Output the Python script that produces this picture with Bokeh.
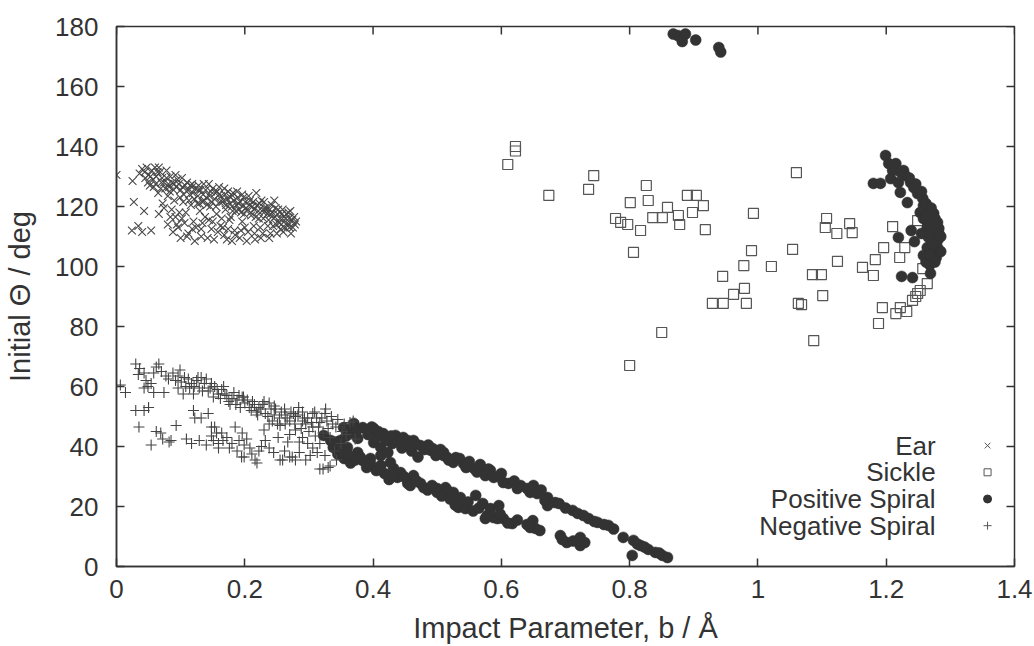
from bokeh.plotting import figure
from bokeh.models import Range1d, FixedTicker
from bokeh.core.properties import value
from bokeh.embed import file_html
from bokeh.resources import INLINE

# ---------------- data ----------------
x_ticks = [0, 0.2, 0.4, 0.6, 0.8, 1.0, 1.2, 1.4]
x_tick_labels = ["0", "0.2", "0.4", "0.6", "0.8", "1", "1.2", "1.4"]
y_ticks = [0, 20, 40, 60, 80, 100, 120, 140, 160, 180]
y_tick_labels = ["0", "20", "40", "60", "80", "100", "120", "140", "160", "180"]

series_names = ["Ear", "Sickle", "Positive Spiral", "Negative Spiral"]

ear_b = [
    0.000, 0.025, 0.027, 0.043, 0.024, 0.034, 0.040, 0.054, 0.036, 0.040,
    0.047, 0.055, 0.060, 0.045, 0.052, 0.062, 0.068, 0.070, 0.076, 0.065,
    0.072, 0.080, 0.084, 0.090, 0.095, 0.100, 0.086, 0.092, 0.080, 0.088,
    0.096, 0.100, 0.104, 0.108, 0.110, 0.114, 0.118, 0.120, 0.112, 0.122,
    0.126, 0.130, 0.132, 0.128, 0.136, 0.140, 0.142, 0.144, 0.146, 0.150,
    0.154, 0.156, 0.158, 0.162, 0.165, 0.168, 0.170, 0.172, 0.176, 0.178,
    0.182, 0.184, 0.186, 0.190, 0.192, 0.196, 0.198, 0.202, 0.205, 0.208,
    0.210, 0.214, 0.216, 0.220, 0.222, 0.226, 0.228, 0.232, 0.236, 0.238,
    0.242, 0.245, 0.248, 0.250, 0.254, 0.258, 0.260, 0.264, 0.268, 0.270,
    0.274, 0.278, 0.272, 0.262, 0.058, 0.066, 0.074, 0.082, 0.090, 0.098,
    0.106, 0.116, 0.124, 0.134, 0.138, 0.148, 0.152, 0.160, 0.164, 0.174,
    0.180, 0.188, 0.194, 0.200, 0.212, 0.218, 0.224, 0.230, 0.240, 0.246,
    0.252, 0.256, 0.266, 0.102, 0.118, 0.128, 0.078, 0.066, 0.050, 0.092,
    0.144, 0.160, 0.174, 0.196, 0.234, 0.206, 0.110, 0.132, 0.168, 0.180,
    0.044, 0.049, 0.053, 0.057, 0.061, 0.064, 0.069, 0.071, 0.074, 0.078,
    0.081, 0.083, 0.087, 0.089, 0.093, 0.097, 0.099, 0.103, 0.105, 0.107,
    0.111, 0.113, 0.115, 0.119, 0.121, 0.123, 0.127, 0.129, 0.131, 0.135,
    0.137, 0.139, 0.141, 0.145, 0.147, 0.149, 0.153, 0.155, 0.157, 0.161,
    0.163, 0.167, 0.169, 0.171, 0.173, 0.177, 0.179, 0.181, 0.183, 0.187,
    0.189, 0.191, 0.193, 0.197, 0.199, 0.201, 0.204, 0.207, 0.209, 0.213,
    0.215, 0.217, 0.221, 0.223, 0.227, 0.229, 0.231, 0.235, 0.237, 0.239,
    0.243, 0.247, 0.249, 0.251, 0.255, 0.257, 0.259, 0.261, 0.265, 0.267,
    0.269, 0.271, 0.275, 0.277, 0.280, 0.094, 0.102, 0.118, 0.134, 0.150,
    0.166, 0.178, 0.185, 0.194, 0.203, 0.215, 0.225, 0.240, 0.244, 0.084,
]
ear_theta = [
    130.5, 128.5, 121.5, 118.5, 112.0, 113.5, 111.5, 112.0, 131.0, 132.5,
    133.0, 132.0, 133.0, 129.5, 127.0, 130.0, 131.5, 128.0, 126.0, 124.5,
    121.0, 123.5, 130.0, 127.5, 129.0, 125.5, 119.0, 116.5, 114.0, 111.5,
    113.0, 109.5, 121.5, 118.0, 128.0, 124.0, 126.5, 115.0, 111.0, 108.5,
    121.0, 118.5, 112.5, 125.5, 127.5, 123.0, 109.5, 115.5, 120.0, 126.0,
    124.5, 117.5, 111.5, 113.5, 121.5, 126.0, 119.0, 109.0, 115.5, 123.0,
    124.5, 112.0, 118.5, 121.0, 109.5, 115.0, 123.0, 119.5, 111.5, 122.0,
    117.0, 113.5, 109.0, 120.5, 116.0, 122.0, 111.0, 118.5, 113.5, 109.5,
    120.5, 116.0, 119.5, 111.0, 114.5, 117.5, 111.5, 116.0, 118.0, 113.0,
    115.5, 114.0, 111.0, 113.0, 126.5, 117.5, 119.5, 126.5, 122.0, 118.0,
    114.5, 120.5, 113.0, 121.5, 116.5, 112.5, 109.0, 124.0, 116.0, 112.5,
    120.0, 125.0, 118.0, 113.0, 120.0, 124.5, 113.0, 121.5, 117.5, 122.0,
    119.0, 112.5, 114.5, 129.5, 127.5, 127.0, 132.0, 133.0, 130.5, 130.5,
    127.5, 126.5, 125.0, 124.0, 119.5, 123.5, 110.0, 110.0, 110.5, 108.5,
    131.5, 128.0, 130.0, 129.0, 127.5, 131.5, 126.0, 129.5, 128.0, 129.5,
    127.5, 125.0, 128.0, 125.5, 126.5, 127.5, 123.0, 126.5, 124.0, 127.0,
    125.5, 122.0, 127.0, 124.5, 122.5, 126.0, 123.5, 121.0, 125.5, 124.0,
    122.0, 125.5, 120.5, 123.5, 125.0, 121.5, 122.5, 120.0, 125.0, 121.5,
    123.5, 122.0, 124.0, 120.5, 122.5, 121.0, 124.0, 118.5, 122.0, 120.5,
    123.0, 119.0, 121.5, 120.0, 117.5, 121.5, 119.0, 120.5, 118.0, 121.5,
    119.0, 116.5, 118.5, 121.0, 118.5, 116.0, 119.5, 117.5, 115.5, 119.0,
    118.0, 116.5, 114.0, 117.5, 116.0, 114.0, 119.0, 116.5, 117.5, 113.5,
    116.0, 118.5, 113.0, 116.5, 115.0, 114.0, 116.0, 112.5, 114.5, 115.0,
    113.0, 116.5, 110.5, 112.0, 108.5, 111.0, 109.5, 111.0, 113.5, 116.5,
]

sickle_b = [
    0.610, 0.622, 0.622, 0.674, 0.744, 0.736, 0.826, 0.801, 0.829, 0.890,
    0.904, 0.915, 0.859, 0.836, 0.851, 0.876, 0.898, 0.878, 0.778, 0.786,
    0.797, 0.817, 0.918, 0.993, 0.806, 0.990, 1.054, 0.978, 1.021, 0.945,
    0.979, 0.962, 0.929, 0.946, 0.982, 1.063, 0.850, 0.800, 1.060, 1.107,
    1.105, 1.123, 1.143, 1.147, 1.210, 1.196, 1.229, 1.183, 1.221, 1.124,
    1.163, 1.180, 1.085, 1.099, 1.101, 1.068, 1.257, 1.264, 1.249, 1.241,
    1.194, 1.215, 1.222, 1.253, 1.188, 1.087, 1.249, 1.246, 1.232,
]
sickle_theta = [
    134.0, 140.0, 138.5, 123.7, 130.3, 125.7, 127.0, 121.3, 122.0, 123.7,
    123.7, 120.3, 119.7, 116.3, 116.3, 117.0, 118.0, 114.0, 116.0, 114.7,
    114.0, 112.0, 112.3, 117.7, 104.7, 105.3, 105.7, 100.3, 100.0, 96.7,
    92.7, 90.7, 87.7, 87.7, 87.7, 87.7, 78.0, 67.0, 131.3, 116.0,
    113.0, 111.0, 114.3, 111.3, 113.3, 106.3, 106.3, 102.3, 103.0, 101.7,
    99.7, 97.0, 97.3, 97.3, 90.3, 87.3, 99.3, 94.3, 91.0, 88.7,
    86.3, 84.3, 86.3, 92.0, 81.0, 75.3, 115.3, 90.0, 85.0,
]

pos_b = [
    0.868, 0.875, 0.887, 0.882, 0.903, 0.939, 0.942,
    1.199, 1.204, 1.215, 1.227, 1.230, 1.180, 1.191, 1.207, 1.219, 1.238,
    1.222, 1.243, 1.249, 1.257, 1.233, 1.258, 1.253, 1.266, 1.274, 1.258,
    1.272, 1.280, 1.264, 1.282, 1.282, 1.239, 1.219, 1.244, 1.266, 1.280,
    1.264, 1.280, 1.258, 1.278, 1.274, 1.224, 1.241, 1.269, 1.268, 1.262,
    1.210, 1.222, 1.236, 1.246, 1.255, 1.262, 1.270, 1.262, 1.276, 1.268,
    1.285, 1.272, 1.285, 1.268, 1.276, 1.255,
    0.510, 0.525, 0.541, 0.557, 0.575, 0.588, 0.603, 0.611, 0.630, 0.645,
    0.656, 0.672, 0.684, 0.672, 0.711, 0.719, 0.736, 0.750, 0.767, 0.790,
    0.806, 0.804, 0.817, 0.829, 0.840, 0.851, 0.859,
    0.513, 0.525, 0.536, 0.533, 0.544, 0.560, 0.571, 0.583, 0.596, 0.588,
    0.603, 0.617, 0.649, 0.653, 0.645, 0.692, 0.702, 0.723, 0.723,
    0.368, 0.384, 0.401, 0.416, 0.435, 0.454, 0.474, 0.493, 0.510, 0.529,
    0.376, 0.401, 0.412, 0.412, 0.423, 0.396,
    0.349, 0.360, 0.376, 0.384, 0.396, 0.412, 0.432, 0.427, 0.438, 0.454,
    0.463, 0.474, 0.500, 0.516, 0.443,
    0.323, 0.334, 0.338,
    0.354, 0.370, 0.463, 0.490, 0.516, 0.568, 0.583, 0.454, 0.479, 0.500,
    0.532, 0.578, 0.594,
    0.345, 0.355, 0.365, 0.395, 0.405, 0.430, 0.445, 0.460, 0.470,
    0.358, 0.366, 0.375, 0.392, 0.398, 0.408, 0.420, 0.428, 0.440, 0.447,
    0.458, 0.466, 0.480, 0.486, 0.498, 0.505, 0.518, 0.535, 0.545, 0.550,
    0.562, 0.567, 0.580, 0.595, 0.600, 0.620, 0.625, 0.640, 0.650, 0.662,
    0.668, 0.690, 0.700, 0.728, 0.745, 0.760, 0.775, 0.812, 0.823, 0.846,
    0.342, 0.352, 0.362, 0.372, 0.380, 0.390, 0.405, 0.418, 0.425, 0.433,
    0.448, 0.458, 0.468, 0.485, 0.492, 0.507, 0.520, 0.528, 0.548, 0.556,
    0.565, 0.575, 0.598, 0.610, 0.625, 0.640, 0.660, 0.695, 0.712, 0.730,
]
pos_theta = [
    177.5, 177.0, 177.5, 175.0, 175.5, 173.0, 171.5,
    137.0, 134.3, 134.3, 132.0, 130.3, 127.7, 127.7, 129.3, 128.0, 128.0,
    124.7, 126.3, 124.3, 122.7, 121.3, 120.3, 118.0, 118.7, 117.7, 116.0,
    114.7, 114.7, 113.0, 112.7, 111.0, 112.0, 109.7, 108.3, 109.7, 108.7,
    106.3, 106.3, 103.7, 103.0, 104.7, 96.7, 96.3, 97.7, 100.5, 101.5,
    132.0, 131.5, 129.5, 127.5, 125.0, 121.0, 119.5, 117.0, 116.0, 111.5,
    110.0, 107.5, 105.0, 104.0, 101.5, 111.0,
    37.0, 34.7, 34.3, 32.7, 30.3, 29.7, 28.0, 27.7, 27.0, 24.7,
    24.3, 23.0, 21.3, 20.3, 18.7, 17.7, 16.0, 14.7, 13.7, 9.7,
    8.7, 3.7, 7.0, 5.7, 4.7, 3.7, 3.0,
    26.3, 24.7, 23.0, 19.7, 19.3, 23.7, 21.0, 19.3, 20.3, 16.3,
    16.0, 14.3, 15.3, 12.7, 13.0, 10.3, 8.0, 9.7, 7.0,
    46.0, 46.3, 46.0, 44.3, 43.7, 42.0, 40.3, 39.3, 38.0, 36.3,
    42.7, 41.3, 39.7, 37.0, 38.0, 36.0,
    42.0, 39.7, 38.0, 35.3, 34.3, 33.7, 32.7, 34.7, 29.7, 28.7,
    30.3, 27.7, 26.0, 25.3, 31.3,
    43.7, 42.0, 39.7,
    46.3, 47.7, 42.0, 38.7, 36.3, 33.0, 32.0, 27.7, 26.3, 24.7,
    21.0, 17.0, 16.0,
    37.5, 36.0, 34.5, 44.5, 43.0, 41.0, 39.5, 38.5, 36.5,
    43.5, 44.5, 45.5, 44.0, 46.5, 45.0, 42.0, 43.5, 41.5, 43.0,
    40.0, 41.0, 39.0, 40.5, 37.0, 39.0, 35.5, 36.0, 33.0, 35.0,
    31.5, 34.0, 32.5, 30.0, 31.0, 28.5, 26.0, 26.0, 27.0, 25.5,
    22.0, 21.0, 19.5, 17.0, 15.0, 14.0, 12.5, 7.5, 6.5, 4.5,
    41.5, 38.5, 37.0, 35.5, 36.5, 33.0, 32.0, 31.0, 29.0, 30.5,
    30.0, 27.0, 28.5, 25.5, 27.0, 23.5, 22.5, 20.5, 21.5, 18.5,
    19.5, 16.0, 17.5, 14.5, 15.5, 14.0, 12.0, 9.0, 8.5, 8.0,
]

neg_b = [
    0.006, 0.014, 0.030, 0.043, 0.050, 0.035, 0.054, 0.030, 0.036, 0.034,
    0.043, 0.046, 0.066, 0.058, 0.077, 0.088, 0.096, 0.101, 0.112, 0.117,
    0.125, 0.129, 0.137, 0.096, 0.104, 0.120, 0.143, 0.153, 0.159, 0.169,
    0.180, 0.191, 0.200, 0.207, 0.222, 0.238, 0.248, 0.232, 0.254, 0.263,
    0.270, 0.243, 0.255, 0.043, 0.049, 0.054, 0.074, 0.058, 0.108, 0.132,
    0.148, 0.164, 0.175, 0.186, 0.196, 0.212, 0.218, 0.228, 0.262, 0.276,
    0.290, 0.306, 0.325, 0.326, 0.279, 0.298, 0.290, 0.306, 0.322, 0.263,
    0.279, 0.290, 0.317, 0.333, 0.295, 0.317, 0.337, 0.364, 0.342, 0.369,
    0.352, 0.238, 0.246, 0.284, 0.312, 0.330, 0.270, 0.300, 0.310, 0.285,
    0.069, 0.072, 0.085, 0.093, 0.109, 0.117, 0.129, 0.140, 0.120, 0.122,
    0.132, 0.143, 0.148, 0.156, 0.164, 0.151, 0.159, 0.172, 0.180, 0.191,
    0.188, 0.199, 0.208, 0.199, 0.211, 0.219, 0.222, 0.232, 0.238, 0.255,
    0.270, 0.259, 0.274, 0.279, 0.295, 0.322, 0.333, 0.302, 0.317, 0.330,
    0.216, 0.195, 0.153, 0.159, 0.082, 0.062, 0.148, 0.166, 0.176, 0.203,
    0.226, 0.245, 0.262, 0.285, 0.306, 0.340, 0.350, 0.325, 0.343,
    0.185, 0.196, 0.230, 0.252, 0.358, 0.372,
    0.062, 0.070, 0.081, 0.092, 0.099, 0.106, 0.114, 0.121, 0.127, 0.134,
    0.140, 0.146, 0.151, 0.157, 0.162, 0.167, 0.172, 0.177, 0.183, 0.188,
    0.193, 0.198, 0.204, 0.210, 0.215, 0.220, 0.225, 0.230, 0.236, 0.241,
    0.246, 0.251, 0.257, 0.266, 0.272, 0.278, 0.283, 0.288, 0.293, 0.304,
    0.309, 0.315, 0.320, 0.328, 0.335, 0.345, 0.355, 0.267, 0.298, 0.313,
]
neg_theta = [
    60.5, 58.0, 52.0, 52.0, 53.0, 46.5, 40.5, 67.5, 66.0, 64.0,
    64.5, 62.0, 67.5, 64.5, 63.5, 64.5, 63.5, 61.5, 62.5, 61.0,
    62.0, 59.5, 61.0, 59.5, 57.5, 57.5, 58.5, 60.0, 57.5, 57.5,
    56.0, 57.0, 54.5, 53.0, 53.0, 54.5, 52.5, 51.0, 49.5, 50.5,
    48.5, 48.5, 47.0, 59.5, 60.0, 61.0, 58.0, 58.0, 60.0, 63.0,
    61.0, 59.0, 55.0, 54.0, 56.5, 55.0, 51.5, 54.0, 52.5, 51.0,
    51.5, 51.0, 51.0, 52.5, 50.0, 49.5, 48.5, 46.5, 44.5, 47.5,
    45.5, 43.0, 41.0, 43.0, 47.5, 48.0, 47.5, 48.0, 46.5, 48.5,
    45.0, 47.5, 53.5, 53.0, 49.5, 46.0, 44.0, 45.0, 43.5, 41.5,
    44.5, 42.5, 42.0, 47.0, 42.5, 41.0, 42.0, 40.5, 52.0, 49.5,
    49.5, 51.0, 46.5, 44.5, 44.5, 42.0, 39.5, 43.0, 41.0, 42.0,
    38.5, 40.5, 39.5, 36.5, 37.5, 34.5, 38.5, 42.0, 39.5, 35.5,
    36.5, 35.5, 36.5, 35.5, 35.5, 32.5, 33.5, 37.0, 32.5, 33.0,
    35.5, 36.5, 46.5, 41.0, 41.5, 45.0, 43.5, 42.0, 39.5, 42.5,
    40.0, 38.0, 38.5, 38.0, 39.5, 38.5, 41.0, 37.0, 35.5,
    46.5, 44.5, 45.5, 43.0, 44.0, 42.5,
    66.5, 65.0, 62.5, 62.0, 65.5, 63.0, 59.5, 60.0, 63.0, 58.5,
    62.5, 59.5, 56.5, 59.0, 56.0, 60.0, 57.0, 54.0, 58.0, 55.5,
    53.0, 56.5, 55.5, 52.0, 54.0, 50.5, 52.5, 55.0, 50.0, 52.5,
    50.5, 47.5, 51.5, 49.5, 51.5, 47.5, 50.5, 46.0, 49.5, 48.0,
    51.5, 46.5, 49.5, 48.5, 50.0, 49.0, 47.5, 41.5, 41.0, 38.0,
]

# ---------------- styling / layout ----------------
FONT = "Liberation Sans"
INK = "#333333"
W, H = 1034, 646
PX_X = 1.4 / 898.0   # data units per screen pixel (x)
PX_Y = 180 / 540.0   # data units per screen pixel (y)
TICK_LEN = 8

p = figure(width=W, height=H, x_range=Range1d(0, 1.4), y_range=Range1d(0, 180),
           output_backend="svg", toolbar_location=None,
           min_border_left=116, min_border_right=20, min_border_top=26, min_border_bottom=80,
           background_fill_color="white", border_fill_color="white")
p.grid.visible = False
p.outline_line_color = INK
p.outline_line_width = 1.5


def style_axis(ax, ticks, labels):
    ax.ticker = FixedTicker(ticks=ticks)
    ax.major_label_overrides = {t: l for t, l in zip(ticks, labels)}
    ax.major_tick_in = TICK_LEN
    ax.major_tick_out = 0
    ax.minor_tick_in = 0
    ax.minor_tick_out = 0
    ax.axis_line_color = INK
    ax.axis_line_width = 1.5
    ax.major_tick_line_color = INK
    ax.major_tick_line_width = 1.5
    ax.major_label_text_font = FONT
    ax.major_label_text_color = INK
    ax.major_label_text_font_size = "26px"
    ax.axis_label_text_font = FONT
    ax.axis_label_text_color = INK
    ax.axis_label_text_font_style = "normal"
    ax.axis_label_text_font_size = "29px"


xa = p.xaxis[0]
style_axis(xa, x_ticks, x_tick_labels)
xa.axis_label = "Impact Parameter, b / Å"
xa.major_label_standoff = 13
xa.axis_label_standoff = 11

ya = p.yaxis[0]
style_axis(ya, y_ticks, y_tick_labels)
ya.axis_label = "Initial Θ / deg"
ya.major_label_standoff = 18
ya.axis_label_standoff = 16

# mirrored ticks on the top and right frame edges (gnuplot style)
nx, ny = len(x_ticks), len(y_ticks)
p.segment(x0=x_ticks, y0=[180] * nx, x1=x_ticks, y1=[180 - TICK_LEN * PX_Y] * nx,
          line_color=INK, line_width=1.5)
p.segment(x0=[1.4] * ny, y0=y_ticks, x1=[1.4 - TICK_LEN * PX_X] * ny, y1=y_ticks,
          line_color=INK, line_width=1.5)

# ---------------- marks ----------------
p.scatter(ear_b, ear_theta, marker="x", size=11, line_color="#474747", line_width=1.1)
p.scatter(sickle_b, sickle_theta, marker="square", size=10, fill_color=None,
          line_color="#555555", line_width=1.2)
p.scatter(pos_b, pos_theta, marker="circle", size=11, fill_color=INK, line_color=INK, line_width=0.5)
p.scatter(neg_b, neg_theta, marker="cross", size=11, line_color="#444444", line_width=1.1)

# ---------------- key (gnuplot style: text right-aligned, symbol on the right) ----------------
key_text_x = 1.277
key_sym_x = 1.358
key_top = 40.3
key_step = 8.9
key_y = [key_top - i * key_step for i in range(len(series_names))]
p.text(x=[key_text_x] * len(series_names), y=key_y, text=series_names,
       text_align="right", text_baseline="middle", text_font=value(FONT),
       text_font_size="26px", text_color=INK)
key_markers = ["x", "square", "circle", "cross"]
key_sizes = [8, 7, 8, 8]
for m, yy, s in zip(key_markers, key_y, key_sizes):
    if m == "square":
        p.scatter([key_sym_x], [yy], marker=m, size=s, fill_color=None, line_color="#555555", line_width=1)
    elif m == "circle":
        p.scatter([key_sym_x], [yy], marker=m, size=s, fill_color=INK, line_color=INK)
    else:
        p.scatter([key_sym_x], [yy], marker=m, size=s, line_color="#555555", line_width=1)

open("out.html", "w").write(file_html(p, INLINE))
